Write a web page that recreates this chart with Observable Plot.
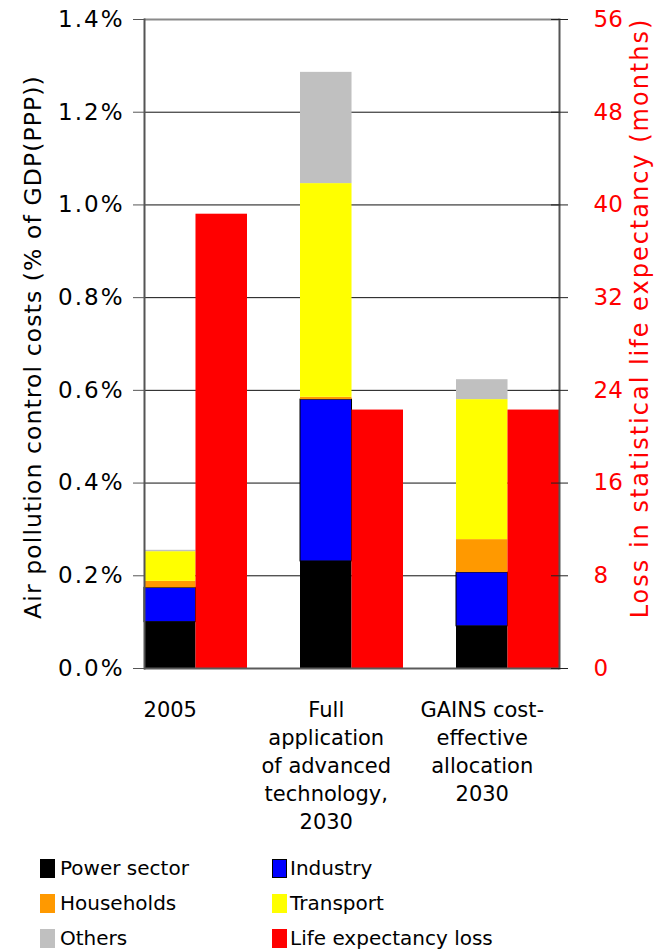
<!DOCTYPE html>
<html>
<head>
<meta charset="utf-8">
<script src="https://cdn.jsdelivr.net/npm/d3@7"></script>
<script src="https://cdn.jsdelivr.net/npm/@observablehq/plot@0.6"></script>
<style>
  html, body { margin: 0; padding: 0; background: #fff; }
  body { width: 657px; font-family: "DejaVu Sans", sans-serif; }
  #legend { position: relative; height: 111px; }
  .item { position: absolute; display: flex; align-items: center; font-size: 20px; color: #000; height: 24px; }
  .sw { width: 15px; height: 19px; margin-right: 5px; box-sizing: border-box; }
</style>
</head>
<body>
<div id="chart"></div>
<div id="legend"></div>
<script>
// ---- data ----
const groups = ["2005", "Full\napplication\nof advanced\ntechnology,\n2030", "GAINS cost-\neffective\nallocation\n2030"];
const sectors = ["Power sector", "Industry", "Households", "Transport", "Others"];
const sectorColors = ["#000000", "#0000ff", "#ff9900", "#ffff00", "#c0c0c0"];
// air pollution control costs, % of GDP(PPP)
const power      = [0.100, 0.231, 0.091];
const industry   = [0.074, 0.349, 0.116];
const households = [0.014, 0.005, 0.071];
const transport  = [0.064, 0.461, 0.302];
const others     = [0.003, 0.240, 0.043];
// loss in statistical life expectancy, months
const lifeLoss = [39.2, 22.3, 22.3];
const lifeLabel = "Life expectancy loss";
const lifeColor = "#ff0000";
const costTicks = [0, 0.2, 0.4, 0.6, 0.8, 1.0, 1.2, 1.4];
const monthTicks = [0, 8, 16, 24, 32, 40, 48, 56];
const costMax = 1.4, monthMax = 56;
const leftTitle = "Air pollution control costs (% of GDP(PPP))";
const rightTitle = "Loss in statistical life expectancy (months)";

// ---- tables ----
const seriesBySector = [power, industry, households, transport, others];
const costRows = [];
groups.forEach((g, i) => sectors.forEach((s, j) => costRows.push({group: g, sector: s, value: seriesBySector[j][i]})));
const lifeRows = groups.map((g, i) => ({group: g, months: lifeLoss[i], y: lifeLoss[i] * costMax / monthMax}));
const m2c = m => m * costMax / monthMax;

// ---- layout ----
const W = 657, H = 840;
const mL = 144, mR = 98, mT = 19, mB = 172;
const padInner = 0.34;
const step = (W - mL - mR) / (groups.length - padInner);
const bw = step * (1 - padInner);
const half = bw / 2;

const font = "DejaVu Sans";

const chart = Plot.plot({
  width: W, height: H,
  marginLeft: mL, marginRight: mR, marginTop: mT, marginBottom: mB,
  style: {fontFamily: font, background: "#fff", color: "#000"},
  x: {domain: groups, paddingInner: padInner, paddingOuter: 0, axis: null},
  y: {domain: [0, costMax], axis: null},
  color: {domain: [...sectors, lifeLabel], range: [...sectorColors, lifeColor]},
  opacity: {domain: [0, 1], range: [0, 1]},
  marks: [
    Plot.ruleY(costTicks.filter(t => t > 0 && t < costMax), {stroke: "#111", strokeWidth: 1}),
    Plot.barY(costRows, {x: "group", y: "value", fill: "sector", stroke: "#000", strokeWidth: 1,
      strokeOpacity: d => d.sector === "Industry" ? 1 : 0, insetRight: half, insetLeft: 0}),
    Plot.barY(lifeRows, {x: "group", y: "y", fill: () => lifeLabel, insetLeft: half}),
    Plot.ruleY([costMax], {stroke: "#8a8a8a", strokeWidth: 2}),
    Plot.ruleY([0], {stroke: "#5a5a5a", strokeWidth: 2}),
    Plot.frame({anchor: "left", stroke: "#555", strokeWidth: 2}),
    Plot.frame({anchor: "right", stroke: "#555", strokeWidth: 2}),
    // left axis
    Plot.axisY(costTicks, {anchor: "left", tickSize: 11, tickPadding: 9, stroke: "#555", fontSize: 23, tickFormat: d => d.toFixed(1) + "%", label: null}),
    // right axis ticks (crossing)
    Plot.axisY(monthTicks.map(m2c), {anchor: "right", tickSize: 17, dx: -9, tickFormat: () => "", stroke: "#222", label: null}),
    // right axis labels
    Plot.axisY(monthTicks.map(m2c), {anchor: "right", tickSize: 0, tickPadding: 34, color: "#ff0000", fontSize: 23, tickFormat: d => String(Math.round(d * monthMax / costMax)), label: null}),
    // x labels
    Plot.text(groups, {x: d => d, frameAnchor: "bottom", lineAnchor: "top", dy: 29, dx: -half / 2, lineHeight: 1.33, fontSize: 21, text: d => d, fill: "#000"}),
    // axis titles
    Plot.text([leftTitle], {frameAnchor: "left", textAnchor: "middle", lineAnchor: "middle", rotate: -90, dx: -111, dy: 3, fontSize: 23.5, text: d => d, fill: "#000"}),
    Plot.text([rightTitle], {frameAnchor: "right", textAnchor: "middle", lineAnchor: "middle", rotate: -90, dx: 81, dy: -26, fontSize: 24, text: d => d, fill: "#ff0000"})
  ]
});
document.getElementById("chart").appendChild(chart);

// letter spacing tweaks (reference font is wider)
d3.select(chart).selectAll("text").each(function () {
  const t = this.textContent;
  if (t === leftTitle) this.style.letterSpacing = "1.1px";
  else if (t === rightTitle) this.style.letterSpacing = "2px";
  else if (/%$/.test(t)) this.style.letterSpacing = "2px";
});

// ---- legend ----
const legendItems = [
  [sectors[0], sectorColors[0]], [sectors[1], sectorColors[1]],
  [sectors[2], sectorColors[2]], [sectors[3], sectorColors[3]],
  [sectors[4], sectorColors[4]], [lifeLabel, lifeColor]
];
const legend = document.getElementById("legend");
legendItems.forEach(([label, color], i) => {
  const col = i % 2, row = Math.floor(i / 2);
  const el = document.createElement("div");
  el.className = "item";
  el.style.left = (col === 0 ? 40 : 272) + "px";
  el.style.top = (16 + row * 35) + "px";
  const sw = document.createElement("span");
  sw.className = "sw";
  sw.style.background = color;
  if (label === "Industry") sw.style.border = "1px solid #000";
  if (col === 1) sw.style.marginRight = "3px";
  const tx = document.createElement("span");
  tx.textContent = label;
  el.appendChild(sw); el.appendChild(tx);
  legend.appendChild(el);
});
</script>
</body>
</html>
